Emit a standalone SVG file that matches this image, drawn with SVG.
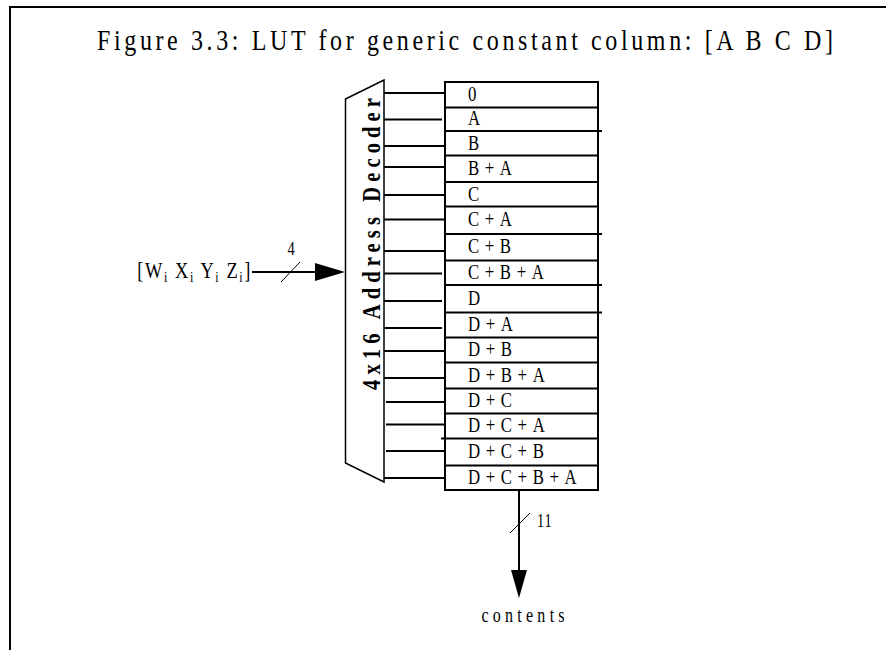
<svg xmlns="http://www.w3.org/2000/svg" width="886" height="650" viewBox="0 0 886 650">
  <style>
    text { font-family: "Liberation Serif", "Times New Roman", serif; fill: #000; }
    .row { font-size: 21px; letter-spacing: 7px; }
    .wire { stroke: #000; stroke-width: 2; fill: none; }
    .cell { stroke: #000; stroke-width: 2; fill: #fff; }
    .thin { stroke: #000; stroke-width: 1; fill: none; }
  </style>

  <!-- page frame -->
  <path class="wire" d="M10 650 V7 H886"/>

  <!-- caption, set in a condensed face -->
  <text transform="translate(465 50) scale(0.8 1)" font-size="30" text-anchor="middle" textLength="920" lengthAdjust="spacing">Figure 3.3: LUT for generic constant column: [A B C D]</text>

  <!-- address decoder -->
  <g id="decoder">
    <path d="M345.5 99 L384 80 V482 L345.5 463 Z" fill="#fff" stroke="#000" stroke-width="1.5"/>
    <text transform="translate(380 244) rotate(-90) scale(0.82 1)" font-size="25" font-weight="bold" text-anchor="middle" textLength="356" lengthAdjust="spacing">4x16 Address Decoder</text>
  </g>

  <!-- lookup table -->
  <g id="lut">
    <rect class="cell" x="445" y="82" width="153" height="408"/>
    <path class="wire" d="M445 107.5H598 M445 131H602 M445 155.5H598 M445 182H598 M445 206.5H598 M445 234H602 M445 260.5H598 M445 285H602 M445 312.5H602 M445 337.5H598 M445 362.5H598 M445 388.5H598 M445 413.5H598 M441 438.5H598 M445 465.5H598"/>
    <text class="row" transform="translate(468 100.5) scale(0.8 1)">0</text>
    <text class="row" transform="translate(468 125) scale(0.8 1)">A</text>
    <text class="row" transform="translate(468 149.5) scale(0.8 1)">B</text>
    <text class="row" transform="translate(468 175) scale(0.8 1)">B+A</text>
    <text class="row" transform="translate(468 200.5) scale(0.8 1)">C</text>
    <text class="row" transform="translate(468 226) scale(0.8 1)">C+A</text>
    <text class="row" transform="translate(468 253) scale(0.8 1)">C+B</text>
    <text class="row" transform="translate(468 279) scale(0.8 1)">C+B+A</text>
    <text class="row" transform="translate(468 304.5) scale(0.8 1)">D</text>
    <text class="row" transform="translate(468 331) scale(0.8 1)">D+A</text>
    <text class="row" transform="translate(468 356) scale(0.8 1)">D+B</text>
    <text class="row" transform="translate(468 381.5) scale(0.8 1)">D+B+A</text>
    <text class="row" transform="translate(468 407) scale(0.8 1)">D+C</text>
    <text class="row" transform="translate(468 432) scale(0.8 1)">D+C+A</text>
    <text class="row" transform="translate(468 458) scale(0.8 1)">D+C+B</text>
    <text class="row" transform="translate(468 484) scale(0.8 1)">D+C+B+A</text>
  </g>

  <g id="connectors">
    <!-- decoder outputs to table rows -->
    <path class="wire" d="M384 93H445 M384 119.5H442 M384 146H445 M384 167H445 M384 195H445 M384 219.5H445 M384 251H445 M384 273.5H442 M384 301H442 M384 328H442 M384 351H445 M384 378H445 M386 402H445 M386 424.5H445 M386 451H445 M384 478H445"/>

    <!-- input bus -->
    <path class="wire" d="M252 272H316"/>
    <path d="M315 263 L345 272 L315 281 Z" fill="#000"/>
    <path class="thin" d="M281 282 L300 262"/>
    <text transform="translate(291 255) scale(0.8 1)" font-size="18" text-anchor="middle">4</text>

    <!-- output bus -->
    <path class="wire" d="M519 490V571"/>
    <path d="M511 570 L527 570 L519 598 Z" fill="#000"/>
    <path class="thin" d="M510 533 L530 513"/>
    <text transform="translate(537 527) scale(0.8 1)" font-size="18" letter-spacing="1">11</text>
  </g>

  <g id="input-label">
    <text transform="translate(252 278) scale(0.8 1)" font-size="23" text-anchor="end" letter-spacing="2">[W<tspan font-size="15" dy="4">i</tspan><tspan dy="-4"> X</tspan><tspan font-size="15" dy="4">i</tspan><tspan dy="-4"> Y</tspan><tspan font-size="15" dy="4">i</tspan><tspan dy="-4"> Z</tspan><tspan font-size="15" dy="4">i</tspan><tspan dy="-4">]</tspan></text>
  </g>

  <g id="output-label">
    <text transform="translate(523 622) scale(0.8 1)" font-size="20" text-anchor="middle" textLength="104" lengthAdjust="spacing">contents</text>
  </g>
</svg>
